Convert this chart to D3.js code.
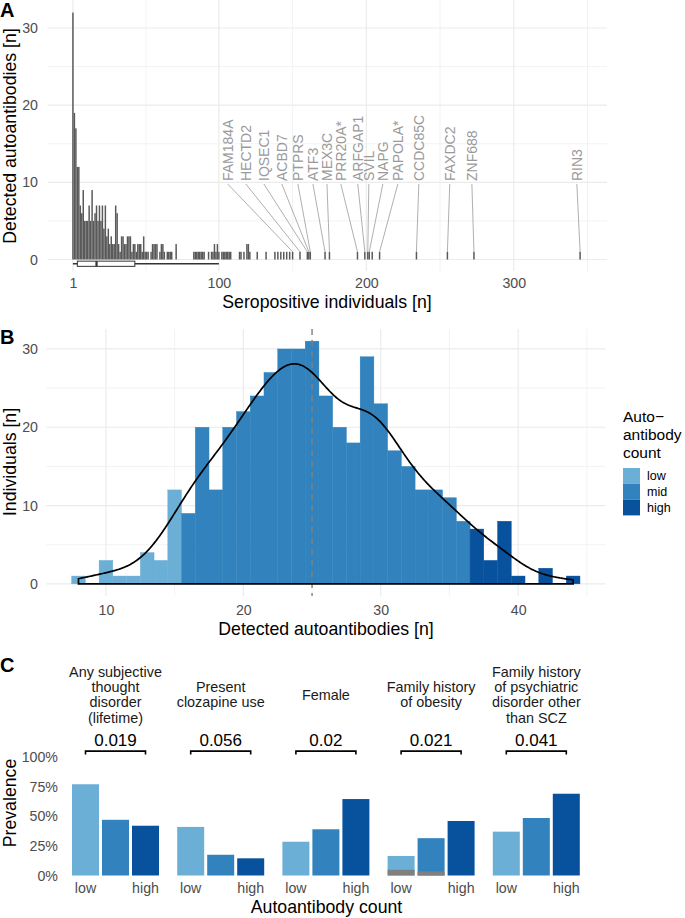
<!DOCTYPE html>
<html lang="en">
<head>
<meta charset="UTF-8">
<title>Autoantibody counts</title>
<style>
    body { margin: 0; background: #fff; }
    svg text { font-family: "Liberation Sans", Arial, sans-serif; }
</style>
</head>
<body>
<svg id="chart" width="685" height="918"></svg>

<script src="https://d3js.org/d3.v7.min.js"></script>
<script>
// ---- panel A: number of autoantibodies detected in n seropositive individuals
const seroN = [1,2,3,4,5,6,7,8,9,10,11,12,13,14,15,16,17,18,19,20,21,22,23,24,25,26,27,28,29,30,
    31,32,33,34,35,36,37,38,39,40,41,42,43,44,45,46,47,48,49,50,51,52,54,55,56,57,58,60,61,62,63,
    65,66,67,68,71,83,84,85,86,87,88,89,90,93,95,96,97,98,99,100,102,103,104,105,106,107,108,
    114,115,117,119,120,121,126,132,138,140,142,144,146,148,
    150,155,160,161,162,172,175,194,199,201,202,204,209,234,255,273,345];
const abCount = [32,19,17,12,12,7,6,9,5,5,5,7,5,9,5,6,7,5,7,5,7,4,7,3,4,2,3,2,2,7,
    6,2,1,3,3,2,2,3,3,3,1,2,2,1,2,2,2,1,3,1,1,1,1,2,2,2,2,1,2,2,1,
    1,1,1,1,2,1,1,1,1,1,1,1,1,1,1,1,2,1,2,1,1,1,1,1,1,1,1,
    1,1,1,2,2,1,1,1,1,1,1,1,1,1,
    1,1,1,1,1,1,1,1,1,1,1,1,1,1,1,1,1];
const geneNames = ["FAM184A","HECTD2","IQSEC1","ACBD7","PTPRS","ATF3","MEX3C","PRR20A*",
    "ARFGAP1","SVIL","NAPG","PAPOLA*","CCDC85C","FAXDC2","ZNF688","RIN3"];
const geneN = [150,155,160,161,162,172,175,194,199,201,202,209,234,255,273,345];
// where the repelled labels ended up, in units of the x axis
const geneLabelAt = [106,118.3,130.5,142.7,153.6,163.8,173.3,182.7,194.2,201.7,211.2,221.4,235.6,256.6,271.6,342.8];
const boxStats = [1, 4, 17, 43, 100];   // whisker low, q1, median, q3, whisker high
const ticksA = [1, 100, 200, 300];

// ---- panel B: detected autoantibodies per individual
const detected = [8,9,10,11,12,13,14,15,16,17,18,19,20,21,22,23,24,25,26,27,28,29,30,31,32,33,34,35,36,37,38,39,40,41,42,43,44];
const individuals = [1,0,3,1,1,4,3,12,9,20,12,20,22,24,27,30,30,31,24,20,18,29,23,17,15,12,12,11,8,7,3,8,1,0,2,0,1];
const groups = ["low", "mid", "high"];
const groupUpper = [15, 36, Infinity];   // upper limit of each group
const medianDetected = 25;

// ---- panel C: prevalence by autoantibody group
const traits = [
    ["Any subjective", "thought", "disorder", "(lifetime)"],
    ["Present", "clozapine use"],
    ["Female"],
    ["Family history", "of obesity"],
    ["Family history", "of psychiatric", "disorder other", "than SCZ"]
];
const pValues = ["0.019", "0.056", "0.02", "0.021", "0.041"];
const prevLow  = [0.77, 0.41, 0.285, 0.165, 0.37];
const prevMid  = [0.47, 0.175, 0.39, 0.315, 0.485];
const prevHigh = [0.42, 0.145, 0.645, 0.46, 0.69];
const obesityGrey = [0.048, 0.034, 0];   // grey part of the obesity bars
const prevTicks = [0, 0.25, 0.5, 0.75, 1];

const colors = { low: "#6baed6", mid: "#3182bd", high: "#08519c" };
const gridCol = "#ebebeb";
const tickCol = "#4d4d4d";

const svg = d3.select("#chart");

function hGrid(g, scale, vals, x1, x2, w) {
    g.selectAll(null).data(vals).join("line")
        .attr("x1", x1).attr("x2", x2)
        .attr("y1", d => scale(d)).attr("y2", d => scale(d))
        .attr("stroke", gridCol).attr("stroke-width", w);
}
function vGrid(g, scale, vals, y1, y2, w) {
    g.selectAll(null).data(vals).join("line")
        .attr("y1", y1).attr("y2", y2)
        .attr("x1", d => scale(d)).attr("x2", d => scale(d))
        .attr("stroke", gridCol).attr("stroke-width", w);
}
function styleAxis(g, size) {
    g.select(".domain").remove();
    g.selectAll(".tick line").remove();
    g.selectAll("text").attr("fill", tickCol).style("font-size", size + "px");
}
function title(txt, x, y, rot) {
    svg.append("text").text(txt)
        .attr("transform", "translate(" + x + "," + y + ")" + (rot ? " rotate(-90)" : ""))
        .attr("text-anchor", "middle").attr("dy", "0.35em")
        .style("font-size", "17.7px").attr("fill", "#000");
}
function tag(txt, y) {
    svg.append("text").text(txt).attr("x", 0).attr("y", y)
        .style("font-size", "20px").style("font-weight", "bold");
}

// ================= panel A =================
const xA = d3.scaleLinear().domain([-16.25, 363.25]).range([47.5, 607]);
const yA = d3.scaleLinear().domain([0, 30]).range([259.5, 28]);
const gA = svg.append("g");

hGrid(gA, yA, [5, 15, 25], 47.5, 607, 0.6);
vGrid(gA, xA, [50.5, 150, 250, 350], 0, 271, 0.6);
hGrid(gA, yA, [0, 10, 20, 30], 47.5, 607, 1.2);
vGrid(gA, xA, ticksA, 0, 271, 1.2);

const barsA = seroN.map((n, i) => ({ n: n, c: abCount[i] }));
gA.selectAll(".barA").data(barsA).join("rect")
    .attr("class", "barA")
    .attr("x", d => xA(d.n - 0.5))
    .attr("width", d => xA(d.n + 0.5) - xA(d.n - 0.5))
    .attr("y", d => yA(d.c))
    .attr("height", d => yA(0) - yA(d.c))
    .attr("fill", "#595959");

// boxplot under the bars
const yBox = yA(-0.55);
gA.append("line").attr("x1", xA(boxStats[0])).attr("x2", xA(boxStats[4]))
    .attr("y1", yBox).attr("y2", yBox).attr("stroke", "#333").attr("stroke-width", 1.6);
gA.append("rect").attr("x", xA(boxStats[1])).attr("width", xA(boxStats[3]) - xA(boxStats[1]))
    .attr("y", yBox - 2.6).attr("height", 5.2)
    .attr("fill", "#fff").attr("stroke", "#333").attr("stroke-width", 1);
gA.append("line").attr("x1", xA(boxStats[2])).attr("x2", xA(boxStats[2]))
    .attr("y1", yBox - 2.6).attr("y2", yBox + 2.6).attr("stroke", "#333").attr("stroke-width", 2.2);

// gene labels with leader lines
const genes = geneNames.map((g, i) => ({ name: g, n: geneN[i], at: geneLabelAt[i] }));
gA.selectAll(".seg").data(genes).join("line")
    .attr("x1", d => xA(d.at)).attr("y1", 184)
    .attr("x2", d => xA(d.n)).attr("y2", yA(1))
    .attr("stroke", "#9a9a9a").attr("stroke-width", 0.8);
gA.selectAll(".glab").data(genes).join("text")
    .attr("transform", d => "translate(" + xA(d.at) + ",181) rotate(-90)")
    .attr("dy", "0.35em")
    .style("font-size", "14px").attr("fill", "#9a9a9a")
    .text(d => d.name);

gA.append("g").attr("transform", "translate(0,283)")
    .call(d3.axisBottom(xA).tickValues(ticksA).tickSize(0).tickPadding(0))
    .call(g => styleAxis(g, 14.2))
    .selectAll("text").attr("dy", "0.35em");
gA.append("g").attr("transform", "translate(38,0)")
    .call(d3.axisLeft(yA).tickValues([0, 10, 20, 30]).tickSize(0).tickPadding(0))
    .call(g => styleAxis(g, 14.2));

title("Seropositive individuals [n]", 327, 302, false);
title("Detected autoantibodies [n]", 9.5, 136, true);
tag("A", 17);

// ================= panel B =================
const xB = d3.scaleLinear().domain([5.65, 46.35]).range([46.2, 605.4]);
const yB = d3.scaleLinear().domain([-1.55, 32.55]).range([596, 329]);
const gB = svg.append("g");

hGrid(gB, yB, [5, 15, 25], 46.2, 605.4, 0.6);
vGrid(gB, xB, [15, 25, 35, 45], 329, 596, 0.6);
hGrid(gB, yB, [0, 10, 20, 30], 46.2, 605.4, 1.2);
vGrid(gB, xB, [10, 20, 30, 40], 329, 596, 1.2);

const groupOf = v => groups[groupUpper.findIndex(u => v <= u)];
const binsB = detected.map((d, i) => ({ x: d, n: individuals[i], g: groupOf(d) }));
gB.selectAll(".barB").data(binsB).join("rect")
    .attr("x", d => xB(d.x - 0.5))
    .attr("width", d => xB(d.x + 0.5) - xB(d.x - 0.5))
    .attr("y", d => yB(d.n))
    .attr("height", d => yB(0) - yB(d.n))
    .attr("fill", d => colors[d.g])
    .attr("stroke", d => colors[d.g]).attr("stroke-width", 0.4);

gB.append("line")
    .attr("x1", xB(medianDetected)).attr("x2", xB(medianDetected))
    .attr("y1", 329).attr("y2", 596)
    .attr("stroke", "#808080").attr("stroke-width", 1.4).attr("stroke-dasharray", "6,5");

// kernel density of the individual counts (count scale, bw.nrd0 like R)
const values = [];
detected.forEach((d, i) => { for (let k = 0; k < individuals[i]; k++) values.push(d); });
values.sort(d3.ascending);
const iqr = d3.quantile(values, 0.75) - d3.quantile(values, 0.25);
const bw = 0.9 * Math.min(d3.deviation(values), iqr / 1.34) * Math.pow(values.length, -0.2);
const lo = d3.min(values), hi = d3.max(values);
const dens = d3.range(512).map(i => {
    const x = lo + i * (hi - lo) / 511;
    const y = d3.sum(values, v => Math.exp(-0.5 * Math.pow((x - v) / bw, 2))) / (bw * Math.sqrt(2 * Math.PI));
    return [x, y];
});
const densPts = [[lo, 0]].concat(dens, [[hi, 0]]);
gB.append("path")
    .attr("d", d3.line().x(d => xB(d[0])).y(d => yB(d[1]))(densPts) + "Z")
    .attr("fill", "none").attr("stroke", "#000").attr("stroke-width", 1.7);

gB.append("g").attr("transform", "translate(0,610)")
    .call(d3.axisBottom(xB).tickValues([10, 20, 30, 40]).tickSize(0).tickPadding(0))
    .call(g => styleAxis(g, 14.2))
    .selectAll("text").attr("dy", "0.35em");
gB.append("g").attr("transform", "translate(38,0)")
    .call(d3.axisLeft(yB).tickValues([0, 10, 20, 30]).tickSize(0).tickPadding(0))
    .call(g => styleAxis(g, 14.2));

title("Detected autoantibodies [n]", 326, 629, false);
title("Individuals [n]", 9.5, 462, true);
tag("B", 344);

// legend, centred on the panel
const leg = svg.append("g").attr("transform", "translate(623,0)");
leg.selectAll(".lt").data(["Auto\u2212", "antibody", "count"]).join("text")
    .attr("x", 0).attr("y", (d, i) => 417 + i * 17.8).attr("dy", "0.35em")
    .style("font-size", "15.5px").text(d => d);
leg.selectAll(".lk").data(groups).join("rect")
    .attr("x", 0).attr("y", (d, i) => 468 + i * 15.8)
    .attr("width", 17).attr("height", 15.8).attr("fill", d => colors[d]);
leg.selectAll(".ll").data(groups).join("text")
    .attr("x", 24).attr("y", (d, i) => 468 + i * 15.8 + 7.9).attr("dy", "0.35em")
    .style("font-size", "12.5px").text(d => d);

// ================= panel C =================
const yC = d3.scaleLinear().domain([0, 1]).range([875.5, 757]);
const gC = svg.append("g");
const facetW = 96, facetStep = 105.2, facetX0 = 67.5;

traits.forEach((lines, i) => {
    const x0 = facetX0 + i * facetStep;
    const xC = d3.scaleBand().domain(groups).range([x0, x0 + facetW]).paddingInner(0.1).paddingOuter(0.15);
    const g = gC.append("g");
    const vals = [prevLow[i], prevMid[i], prevHigh[i]];
    g.selectAll("rect.bar").data(groups).join("rect")
        .attr("x", d => xC(d)).attr("width", xC.bandwidth())
        .attr("y", (d, j) => yC(vals[j]))
        .attr("height", (d, j) => yC(0) - yC(vals[j]))
        .attr("fill", d => colors[d]);
    if (i === 3) {
        g.selectAll("rect.grey").data(groups).join("rect")
            .attr("x", d => xC(d)).attr("width", xC.bandwidth())
            .attr("y", (d, j) => yC(obesityGrey[j]))
            .attr("height", (d, j) => yC(0) - yC(obesityGrey[j]))
            .attr("fill", "#808080");
    }
    // strip text
    const cx = x0 + facetW / 2;
    const top = 694.7 - (lines.length - 1) * 15.4 / 2;
    g.selectAll("text.strip").data(lines).join("text")
        .attr("x", cx).attr("y", (d, j) => top + j * 15.4).attr("dy", "0.35em")
        .attr("text-anchor", "middle").style("font-size", "14.4px").attr("fill", "#1a1a1a")
        .text(d => d);
    // significance bracket
    const bx1 = xC("low") + xC.bandwidth() / 2, bx2 = xC("high") + xC.bandwidth() / 2;
    g.append("path")
        .attr("d", "M" + bx1 + "," + (yC(1.05) + 3.5) + "V" + yC(1.05) + "H" + bx2 + "V" + (yC(1.05) + 3.5))
        .attr("fill", "none").attr("stroke", "#000").attr("stroke-width", 1.6);
    g.append("text").attr("x", (bx1 + bx2) / 2).attr("y", 740).attr("dy", "0.35em")
        .attr("text-anchor", "middle").style("font-size", "17px").text(pValues[i]);
    // low / high tick labels
    g.append("g").attr("transform", "translate(0,888)")
        .call(d3.axisBottom(xC).tickFormat(d => d === "mid" ? "" : d).tickSize(0).tickPadding(0))
        .call(a => styleAxis(a, 14.2))
        .selectAll("text").attr("dy", "0.35em");
});

gC.append("g").attr("transform", "translate(58,0)")
    .call(d3.axisLeft(yC).tickValues(prevTicks).tickFormat(d3.format(".0%")).tickSize(0).tickPadding(0))
    .call(g => styleAxis(g, 14.2));

title("Autoantibody count", 326.5, 907, false);
title("Prevalence", 9.5, 803, true);
tag("C", 672);
</script>
</body>
</html>
